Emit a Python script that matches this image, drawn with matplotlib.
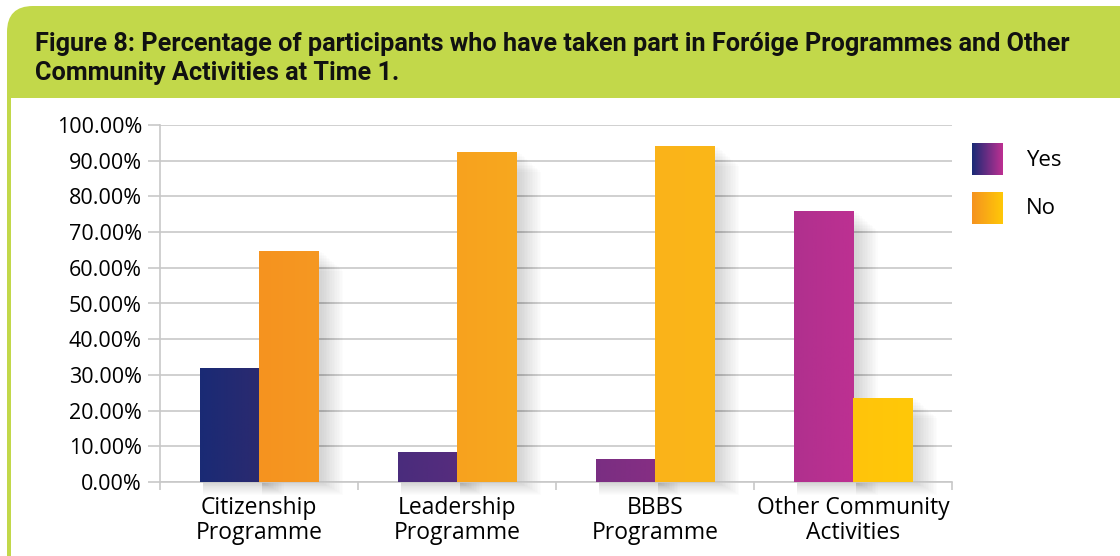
import numpy as np
import matplotlib
matplotlib.use("Agg")
import matplotlib.pyplot as plt
from matplotlib.colors import LinearSegmentedColormap
from matplotlib.patches import FancyBboxPatch, Rectangle

categories = ["Citizenship\nProgramme", "Leadership\nProgramme", "BBBS\nProgramme",
              "Other Community\nActivities"]
yes_values = [31.9, 8.4, 6.2, 75.9]
no_values = [64.7, 92.4, 94.1, 23.5]
series_names = ["Yes", "No"]
title_lines = ["Figure 8: Percentage of participants who have taken part in Foróige Programmes and Other",
               "Community Activities at Time 1."]

# left/right colour of each bar (gradient runs across the categories)
yes_colors = [("#1a2a75", "#2b2a70"), ("#4a2c7c", "#562c7e"),
              ("#7a2e82", "#862e84"), ("#b0308e", "#bd3092")]
no_colors = [("#f5931f", "#f69822"), ("#f7a21f", "#f8a81e"),
             ("#fab31a", "#fbb718"), ("#ffc40b", "#ffc808")]

plt.rcParams["font.family"] = ["Open Sans", "DejaVu Sans"]

W, H = 1120, 556
fig = plt.figure(figsize=(W / 100, H / 100), dpi=100)


def fx(px):
    return px / W


def fy(py):
    return 1 - py / H


# background layer in pixel coordinates for the green frame and title
bg = fig.add_axes([0, 0, 1, 1], zorder=-5)
bg.set_xlim(0, W)
bg.set_ylim(H, 0)
bg.axis("off")
green = "#c2d84a"
bg.add_patch(FancyBboxPatch((7, 6), W + 60, 92, boxstyle="round,pad=0,rounding_size=26",
                            facecolor=green, edgecolor="none"))
bg.add_patch(Rectangle((7, 50), W, 48, facecolor=green, edgecolor="none"))
bg.add_patch(Rectangle((7, 90), 3.5, H, facecolor=green, edgecolor="none"))
for i, line in enumerate(title_lines):
    bg.text(35, 51 + i * 29, line, fontsize=18.2, fontweight="bold",
            family=["Roboto", "DejaVu Sans"],
            va="baseline", ha="left", color="#111111")

ax = fig.add_axes([fx(160), fy(482), fx(952) - fx(160), fy(125) - fy(482)])

x = np.arange(len(categories))
w = 0.3
bars_yes = ax.bar(x - w / 2, yes_values, w, color="none", zorder=3)
bars_no = ax.bar(x + w / 2, no_values, w, color="none", zorder=3)

px_x = 1 / 198.0   # one pixel in x data units
px_y = 100 / 357.0  # one pixel in y data units


def fill_gradient(bar, c0, c1):
    cmap = LinearSegmentedColormap.from_list("g", [c0, c1])
    grad = np.linspace(0, 1, 64).reshape(1, -1)
    x0, y0 = bar.get_x(), bar.get_y()
    ax.imshow(grad, cmap=cmap, aspect="auto", zorder=3,
              extent=(x0, x0 + bar.get_width(), y0, y0 + bar.get_height()))


def soft_shadow(x0, x1, h):
    # stacked translucent rectangles to fake the blurred drop shadow
    for s in np.linspace(1, 22, 14):
        ax.add_patch(Rectangle((x0 + 3 * px_x, -s * 0.6 * px_y),
                               (x1 - x0) + s * px_x, h - s * 0.3 * px_y,
                               facecolor="black", alpha=0.011, edgecolor="none",
                               zorder=2.5, clip_on=False))


for i in range(len(categories)):
    soft_shadow(bars_yes[i].get_x(), bars_yes[i].get_x() + w, yes_values[i])
    soft_shadow(bars_no[i].get_x(), bars_no[i].get_x() + w, no_values[i])

for b, (c0, c1) in zip(bars_yes, yes_colors):
    fill_gradient(b, c0, c1)
for b, (c0, c1) in zip(bars_no, no_colors):
    fill_gradient(b, c0, c1)

ax.set_xlim(-0.5, len(categories) - 0.5)
ax.set_ylim(0, 100)
ax.set_yticks(np.arange(0, 101, 10))
ax.set_yticklabels([f"{v:.2f}%" for v in np.arange(0, 101, 10)], fontsize=15.5)
ax.set_xticks(x)
ax.set_xticklabels(categories, fontsize=16.5, linespacing=1.05)
ax.set_xticks(np.arange(-0.5, len(categories), 1), minor=True)
ax.tick_params(axis="x", which="major", length=0, pad=10)
ax.tick_params(axis="x", which="minor", length=6, color="#c8c8c8", width=1.2)
ax.tick_params(axis="y", length=9, color="#c8c8c8", width=1.2, pad=4)
ax.grid(axis="y", color="#c8c8c8", linewidth=1.2, zorder=0)
ax.set_axisbelow(True)
for s in ["top", "right"]:
    ax.spines[s].set_visible(False)
for s in ["left", "bottom"]:
    ax.spines[s].set_color("#c8c8c8")
    ax.spines[s].set_linewidth(1.2)

# legend with gradient swatches
swatches = [(yes_colors[0][0], yes_colors[-1][1]), (no_colors[0][0], no_colors[-1][1])]
for i, (name, (c0, c1)) in enumerate(zip(series_names, swatches)):
    top = 143 + i * 49
    sax = fig.add_axes([fx(972), fy(top + 32), fx(31), fy(top) - fy(top + 32)])
    cmap = LinearSegmentedColormap.from_list("s", [c0, c1])
    sax.imshow(np.linspace(0, 1, 64).reshape(1, -1), cmap=cmap, aspect="auto")
    sax.axis("off")
    fig.text(fx(1026), fy(top + 17), name, fontsize=16, va="center", ha="left")

fig.savefig("out.png", dpi=100, facecolor="white")
